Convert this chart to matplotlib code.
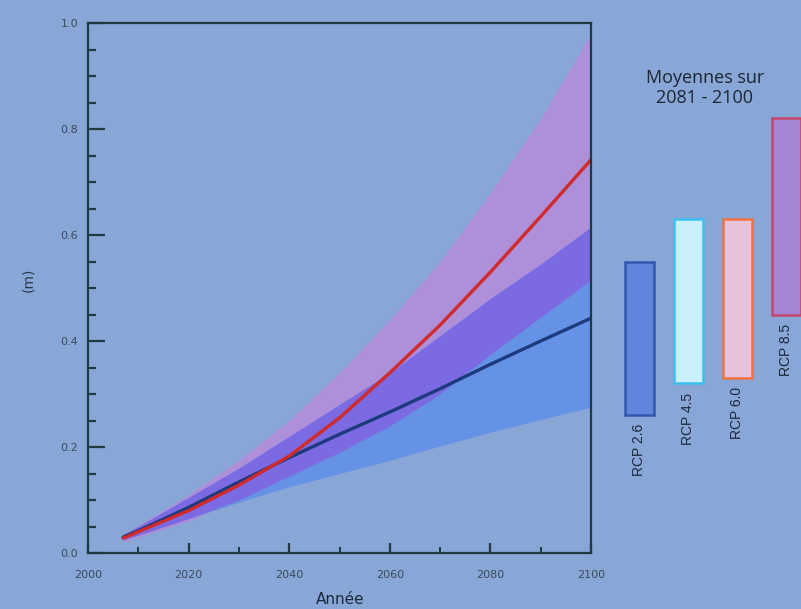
import matplotlib
matplotlib.use("Agg")
import matplotlib.pyplot as plt
from matplotlib.ticker import MultipleLocator
import numpy as np

# projected global mean sea level rise (m)
years = [2007, 2010, 2020, 2030, 2040, 2050, 2060, 2070, 2080, 2090, 2100]
rcp26_mean = [0.030, 0.042, 0.086, 0.134, 0.180, 0.224, 0.266, 0.310, 0.356, 0.400, 0.443]
rcp26_low = [0.025, 0.034, 0.065, 0.096, 0.125, 0.150, 0.175, 0.202, 0.228, 0.252, 0.275]
rcp26_high = [0.035, 0.050, 0.105, 0.160, 0.220, 0.280, 0.340, 0.410, 0.480, 0.545, 0.615]
rcp85_mean = [0.028, 0.040, 0.080, 0.128, 0.183, 0.255, 0.340, 0.430, 0.530, 0.635, 0.742]
rcp85_low = [0.020, 0.030, 0.060, 0.100, 0.145, 0.190, 0.240, 0.300, 0.375, 0.445, 0.515]
rcp85_high = [0.035, 0.052, 0.110, 0.175, 0.250, 0.340, 0.440, 0.550, 0.680, 0.820, 0.980]

# 2081-2100 averages (likely range)
scenarios = ["RCP 2.6", "RCP 4.5", "RCP 6.0", "RCP 8.5"]
avg_low = [0.26, 0.32, 0.33, 0.45]
avg_high = [0.55, 0.63, 0.63, 0.82]
bar_face = ["#5f86dc", "#c9f0fc", "#e6c3da", "#a484d4"]
bar_edge = ["#3158b0", "#3cc0f0", "#f07040", "#c04868"]

bg = "#88a6d6"
spine_col = "#1e3c3e"

fig = plt.figure(figsize=(8.01, 6.09), dpi=100)
fig.patch.set_facecolor(bg)

ax = fig.add_axes([88 / 801, 1 - 553 / 609, 503 / 801, 530 / 609])
ax.set_facecolor(bg)

yr = np.array(years)
lo26, hi26 = np.array(rcp26_low), np.array(rcp26_high)
lo85, hi85 = np.array(rcp85_low), np.array(rcp85_high)
ax.fill_between(yr, lo85, hi85, color="#ae8fda", lw=0)
ax.fill_between(yr, lo26, hi26, color="#6692e6", lw=0)
# overlap of the two ranges
ov_lo = np.maximum(lo26, lo85)
ov_hi = np.minimum(hi26, hi85)
ax.fill_between(yr, ov_lo, ov_hi, where=ov_hi > ov_lo, color="#7c6ae2", lw=0)

ax.plot(yr, rcp26_mean, color="#1d3a7e", lw=2.4, solid_capstyle="round")
ax.plot(yr, rcp85_mean, color="#d02a2a", lw=2.4, solid_capstyle="round")

ax.set_xlim(2000, 2100)
ax.set_ylim(0, 1.0)
ax.xaxis.set_major_locator(MultipleLocator(20))
ax.xaxis.set_minor_locator(MultipleLocator(10))
ax.yaxis.set_major_locator(MultipleLocator(0.2))
ax.yaxis.set_minor_locator(MultipleLocator(0.05))
ax.yaxis.set_major_formatter(lambda v, p: f"{v:.1f}")

for s in ax.spines.values():
    s.set_color(spine_col)
    s.set_linewidth(1.6)
ax.tick_params(axis="y", which="major", direction="in", length=12, width=1.6,
               color=spine_col, labelsize=8, labelcolor="#3a4a5a", pad=7)
ax.tick_params(axis="y", which="minor", direction="in", length=6, width=1.6,
               color=spine_col)
ax.tick_params(axis="x", which="major", direction="in", length=7, width=1.6,
               color=spine_col, labelsize=8, labelcolor="#3a4a5a", pad=12)
ax.tick_params(axis="x", which="minor", direction="in", length=4, width=1.4,
               color=spine_col)
ax.tick_params(right=False, top=False, which="both")

fig.text(28 / 801, 1 - 280 / 609, "(m)", rotation=90, ha="center", va="center",
         fontsize=10, color="#2a3a4a")
fig.text(340 / 801, 1 - 599 / 609, "Année", ha="center", va="center",
         fontsize=11, color="#1a2a3a")

# bars for the end-of-century averages
bx = fig.add_axes([600 / 801, 1 - 553 / 609, 201 / 801, 530 / 609])
bx.set_xlim(-0.8, 3.3)
bx.set_ylim(0, 1.0)
bx.axis("off")
xs = np.arange(len(scenarios))
heights = np.array(avg_high) - np.array(avg_low)
bx.bar(xs, heights, bottom=avg_low, width=0.6, color=bar_face,
       edgecolor=bar_edge, linewidth=1.8, clip_on=False)
for x, lab, low in zip(xs, scenarios, avg_low):
    bx.text(x, low - 0.017, lab, rotation=90, ha="center", va="top",
            fontsize=10, color="#1a2a3a", family="Liberation Sans")

fig.text(705 / 801, 1 - 88 / 609, "Moyennes sur\n2081 - 2100", ha="center",
         va="center", fontsize=13, color="#1e2630", linespacing=1.15,
         family="Open Sans")

fig.savefig("out.png", dpi=100, facecolor=bg)
